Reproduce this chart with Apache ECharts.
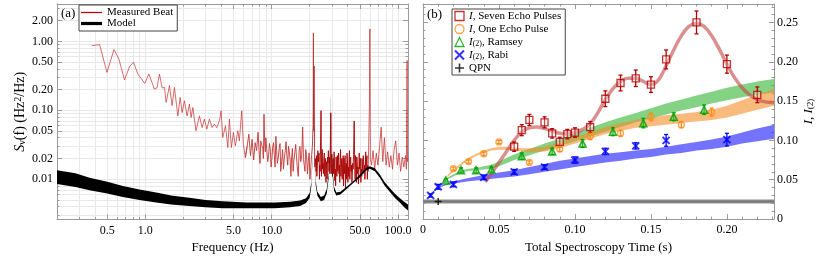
<!DOCTYPE html>
<html><head><meta charset="utf-8">
<script src="https://cdn.jsdelivr.net/npm/echarts@6/dist/echarts.min.js"></script>
<style>html,body{margin:0;padding:0;background:#fff}#c{width:830px;height:257px}</style>
</head><body><div id="c"></div>
<script>
// ================= Panel (a) data =================
const beatFreq = [0.378,0.435,0.497,0.565,0.618,0.684,0.75,0.806,0.873,0.99,1.066,1.18,1.235,1.294,1.36,1.418,1.462,1.553,1.63,1.70,1.81,1.887,1.957,2.04,2.14,2.235,2.305,2.377,2.52,2.68,2.817,2.937,3.07,3.217,3.38,3.52,3.68,3.86,3.98,4.10,4.31,4.50,4.63,4.80,4.98,5.16,5.40,5.55,5.80,5.97,6.19,
6.4,6.6,6.8,7.0,7.2,7.4,7.6,7.8,8.0,8.2,8.5,8.7,8.9,9.0,9.3,9.6,9.9,10.2,10.5,10.8,11.1,11.5,11.8,12.2,12.6,13.0,13.4,13.8,14.2,14.6,15.0,15.5,16.0,16.5,17.0,17.6,18.1,18.6,19.2,19.8,20.4,
21.0,21.3,21.4,21.5,21.7,21.9,22.2,22.5,22.8,23.2,23.5,23.9,24.2,24.6,25.0,25.3,25.7,26.1,26.5,26.9,27.3,27.7,28.1,28.5,28.9,29.4,29.8,30.3,30.7,31.2,31.6,32.1,32.6,33.1,33.6,34.1,34.6,35.1,35.6,36.2,36.8,37.3,37.9,38.4,39.0,39.5,40.1,40.7,41.3,41.9,42.5,43.2,43.8,44.5,45.0,45.8,46.5,47.2,47.9,48.6,49.3,50.1,50.8,51.6,52.3,53.1,53.9,54.7,55.5,56.4,57.2,58.1,
59.4,59.9,60.4,61.7,63.5,65.4,67.4,69.4,71.5,73.6,75.8,78.1,80.4,82.8,85.3,87.9,90.5,93.2,96.0,98.9,101.9,104.9,108.1,111.3,114.7,116.5,118.0,119.0,120];
const beatPSD = [0.871,0.90,0.356,0.762,0.557,0.276,0.43,0.50,0.337,0.246,0.337,0.204,0.211,0.337,0.211,0.215,0.130,0.228,0.117,0.215,0.083,0.154,0.093,0.138,0.083,0.123,0.0787,0.110,0.0505,0.083,0.0563,0.0746,0.0534,0.0746,0.0563,0.063,0.056,0.0705,0.0986,0.0403,0.0596,0.0288,0.0746,0.0288,0.0476,0.0305,0.0505,0.036,0.0986,0.0323,0.0206,
0.030,0.045,0.022,0.038,0.019,0.034,0.026,0.048,0.021,0.036,0.028,0.088,0.025,0.040,0.018,0.033,0.015,0.030,0.022,0.042,0.017,0.029,0.013,0.027,0.020,0.035,0.016,0.025,0.011,0.028,0.019,0.032,0.014,0.026,0.018,0.057,0.016,0.027,0.012,0.024,0.015,
0.030,0.060,1.33,0.05,0.44,0.02,0.020,0.013,0.011,0.026,0.018,0.010,0.013,0.099,0.019,0.014,0.012,0.024,0.017,0.009,0.014,0.021,0.026,0.013,0.012,0.092,0.017,0.011,0.020,0.025,0.0095,0.008,0.016,0.022,0.019,0.012,0.009,0.027,0.015,0.010,0.022,0.020,0.012,0.0075,0.017,0.024,0.009,0.011,0.026,0.019,0.013,0.009,0.017,0.023,0.070,0.010,0.016,0.021,0.012,0.0085,0.024,0.018,0.009,0.011,0.016,0.022,0.013,0.010,0.025,0.019,0.010,0.013,
0.11,1.52,0.02,0.016,0.026,0.014,0.024,0.016,0.030,0.057,0.018,0.040,0.016,0.025,0.015,0.022,0.014,0.027,0.036,0.016,0.024,0.013,0.021,0.015,0.022,0.014,0.53,0.018,0.020];
// additional readings in the dense 8-58 Hz stretch of the measured trace
const beatFreqDense = [8.1,8.35,8.6,8.8,9.15,9.45,9.75,10.05,10.35,10.65,10.95,11.3,11.65,12.0,12.4,12.8,13.2,13.6,14.0,14.4,14.8,15.25,15.75,16.25,16.75,17.3,17.85,18.35,18.9,19.5,20.1,20.7,
22.0,22.65,23.0,23.7,24.05,24.8,25.15,25.5,25.9,26.3,26.7,27.1,27.5,27.9,28.3,28.7,29.1,29.6,30.0,30.5,30.95,31.4,31.85,32.35,32.85,33.35,33.85,34.35,34.85,35.35,35.9,36.5,37.05,37.6,38.15,38.7,39.25,39.8,40.4,41.0,41.6,42.2,42.85,43.5,44.15,45.4,46.15,46.85,47.55,48.25,48.95,49.7,50.45,51.2,51.95,52.7,53.5,54.3,55.1,55.95,56.8,57.65];
const beatPSDDense = [0.017,0.031,0.020,0.035,0.027,0.022,0.028,0.020,0.034,0.015,0.026,0.021,0.033,0.018,0.014,0.026,0.022,0.030,0.019,0.021,0.013,0.024,0.020,0.011,0.030,0.022,0.020,0.013,0.022,0.018,0.010,0.022,
0.015,0.022,0.016,0.024,0.016,0.011,0.027,0.017,0.020,0.011,0.020,0.018,0.010,0.017,0.019,0.021,0.015,0.012,0.023,0.014,0.012,0.019,0.014,0.021,0.011,0.013,0.024,0.016,0.020,0.011,0.020,0.017,0.008,0.016,0.022,0.013,0.010,0.019,0.015,0.020,0.010,0.021,0.016,0.012,0.014,0.018,0.022,0.009,0.018,0.015,0.011,0.014,0.020,0.014,0.020,0.012,0.018,0.016,0.013,0.014,0.022,0.016];

const modelFreq  = [0.2,0.28,0.362,0.5,0.665,0.9,1.22,1.6,2.23,3.0,4.1,6.3,10.6,14,16.8,18.7,20.0,20.6,21.0,21.2,21.33,21.42,21.5,21.62,21.85,22.3,23.0,24.5,26.0,27.3,28.2,28.8,29.1,29.3,29.5,29.8,30.4,31.2,32.5,35.0,39.2,44.0,50.0,55.7,59.9,65.6,71.9,78,86.3,95,103.5,112,120];
const modelUpper = [0.0135,0.0122,0.0105,0.0092,0.0080,0.0071,0.0064,0.0058,0.0054,0.0050,0.0048,0.0046,0.0046,0.0047,0.0049,0.0053,0.0063,0.0090,0.020,0.06,0.25,1.1,0.3,0.07,0.022,0.0095,0.0066,0.0055,0.0058,0.0072,0.012,0.030,0.07,0.17,0.07,0.030,0.013,0.0078,0.0064,0.0066,0.0078,0.0093,0.0117,0.0145,0.0154,0.0144,0.0117,0.0092,0.0074,0.0061,0.0053,0.0047,0.0043];
const modelLower = [0.0085,0.0077,0.0069,0.0062,0.0055,0.0050,0.0046,0.0043,0.0041,0.0039,0.0038,0.0038,0.0038,0.0039,0.0041,0.0045,0.0054,0.0078,0.017,0.05,0.20,0.9,0.22,0.055,0.018,0.0082,0.0058,0.0048,0.0050,0.0062,0.010,0.026,0.06,0.14,0.06,0.026,0.011,0.0068,0.0058,0.0060,0.0072,0.0087,0.0107,0.0134,0.0142,0.0131,0.0105,0.0082,0.0065,0.0053,0.0046,0.0039,0.0035];

const aXLabelVals = [0.5, 1, 5, 10, 50, 100];
const aXLabelText = ['0.5','1.0','5.0','10.0','50.0','100.0'];
const aXMinorVals = [0.2,0.3,0.4,0.5,0.6,0.7,0.8,0.9,1,2,3,4,5,6,7,8,9,10,20,30,40,50,60,70,80,90,100];
const aYLabelVals = [0.01,0.02,0.05,0.1,0.2,0.5,1,2];
const aYLabelText = ['0.01','0.02','0.05','0.10','0.20','0.50','1.00','2.00'];
const aYMinorVals = [0.003,0.004,0.005,0.006,0.007,0.008,0.009,0.01,0.02,0.03,0.04,0.05,0.06,0.07,0.08,0.09,0.1,0.2,0.3,0.4,0.5,0.6,0.7,0.8,0.9,1,2,3];

// ================= Panel (b) data =================
const sevenT   = [0.06,0.065,0.07,0.08,0.085,0.09,0.095,0.1,0.11,0.12,0.13,0.14,0.15,0.16,0.18,0.20,0.22];
const sevenI   = [0.092,0.113,0.126,0.123,0.109,0.098,0.108,0.110,0.117,0.153,0.173,0.179,0.171,0.203,0.250,0.197,0.158];
const sevenErr = [0.006,0.007,0.007,0.007,0.006,0.006,0.006,0.006,0.007,0.010,0.010,0.0105,0.010,0.012,0.0145,0.0115,0.010];
const sevenFitT = [0.041,0.045,0.05,0.055,0.06,0.065,0.07,0.075,0.08,0.085,0.09,0.095,0.1,0.105,0.11,0.115,0.12,0.125,0.13,0.135,0.14,0.145,0.15,0.155,0.16,0.165,0.17,0.175,0.18,0.185,0.19,0.195,0.2,0.205,0.21,0.215,0.22,0.225,0.231];
const sevenFitI = [0.047,0.058,0.072,0.086,0.100,0.111,0.116,0.117,0.115,0.112,0.109,0.108,0.110,0.114,0.121,0.135,0.152,0.166,0.175,0.179,0.179,0.175,0.171,0.177,0.195,0.215,0.233,0.245,0.249,0.245,0.233,0.216,0.197,0.180,0.167,0.158,0.152,0.149,0.148];

const oneT   = [0.02,0.03,0.04,0.05,0.07,0.09,0.11,0.13,0.15,0.17,0.19];
const oneI   = [0.064,0.073,0.083,0.098,0.072,0.089,0.105,0.109,0.130,0.120,0.136];
const oneErr = [0.002,0.002,0.002,0.002,0.002,0.003,0.004,0.004,0.005,0.004,0.005];
const oneBandT  = [0.016,0.02,0.025,0.03,0.035,0.04,0.045,0.05,0.055,0.06,0.065,0.07,0.08,0.09,0.1,0.11,0.12,0.13,0.14,0.15,0.16,0.17,0.18,0.19,0.2,0.21,0.22,0.231];
const oneBandLo = [0.053,0.060,0.068,0.075,0.080,0.084,0.087,0.088,0.088,0.087,0.086,0.085,0.086,0.090,0.096,0.102,0.108,0.112,0.116,0.118,0.120,0.122,0.124,0.126,0.129,0.134,0.139,0.144];
const oneBandHi = [0.056,0.063,0.071,0.078,0.083,0.087,0.090,0.092,0.092,0.091,0.090,0.090,0.092,0.097,0.104,0.110,0.117,0.122,0.126,0.129,0.132,0.134,0.136,0.139,0.144,0.151,0.158,0.165];

const ramseyT   = [0.015,0.025,0.035,0.045,0.065,0.085,0.105,0.125,0.145,0.165,0.185];
const ramseyI   = [0.049,0.062,0.062,0.063,0.080,0.086,0.096,0.111,0.122,0.130,0.139];
const ramseyErr = [0.002,0.003,0.003,0.003,0.004,0.004,0.005,0.005,0.006,0.005,0.006];
const ramseyBandT  = [0.0136,0.02,0.025,0.03,0.035,0.04,0.045,0.05,0.055,0.06,0.065,0.07,0.08,0.09,0.1,0.11,0.12,0.13,0.14,0.15,0.16,0.17,0.18,0.19,0.2,0.21,0.22,0.231];
const ramseyBandLo = [0.048,0.054,0.059,0.061,0.062,0.063,0.064,0.067,0.071,0.075,0.078,0.081,0.087,0.093,0.099,0.105,0.111,0.117,0.123,0.128,0.133,0.138,0.142,0.147,0.151,0.155,0.158,0.161];
const ramseyBandHi = [0.050,0.057,0.062,0.064,0.065,0.067,0.069,0.073,0.078,0.082,0.086,0.089,0.096,0.102,0.109,0.116,0.123,0.129,0.135,0.141,0.147,0.152,0.157,0.162,0.167,0.171,0.175,0.178];

const rabiT   = [0.005,0.01,0.02,0.04,0.06,0.08,0.1,0.12,0.14,0.16,0.2];
const rabiI   = [0.030,0.041,0.044,0.053,0.060,0.066,0.075,0.086,0.093,0.100,0.101];
const rabiErr = [0.002,0.003,0.003,0.003,0.003,0.003,0.004,0.004,0.004,0.0075,0.008];
const rabiBandT  = [0.004,0.01,0.015,0.02,0.03,0.04,0.05,0.06,0.07,0.08,0.09,0.1,0.11,0.12,0.13,0.14,0.15,0.16,0.17,0.18,0.19,0.2,0.21,0.22,0.231];
const rabiBandLo = [0.029,0.039,0.043,0.045,0.048,0.050,0.052,0.054,0.057,0.060,0.063,0.066,0.069,0.072,0.074,0.077,0.079,0.082,0.084,0.087,0.089,0.092,0.096,0.099,0.102];
const rabiBandHi = [0.031,0.041,0.045,0.048,0.052,0.056,0.059,0.062,0.066,0.070,0.074,0.077,0.080,0.083,0.085,0.087,0.089,0.092,0.095,0.098,0.101,0.105,0.110,0.115,0.120];

const qpnT = [0.01];
const qpnI = [0.0224];
const qpnBandT  = [0, 0.231];
const qpnBandLo = [0.0197, 0.0197];
const qpnBandHi = [0.0247, 0.0247];

const bXLabelVals = [0, 0.05, 0.10, 0.15, 0.20];
const bXLabelText = ['0','0.05','0.10','0.15','0.20'];
const bYLabelVals = [0, 0.05, 0.10, 0.15, 0.20, 0.25];
const bYLabelText = ['0','0.05','0.10','0.15','0.20','0.25'];

// ================= Build chart =================
const FONT = 'Liberation Serif';
const L = Math.log10;
const FRAME = '#9a9a9a';
const bXMinorVals = []; for (let k = 0; k <= 23; k++) bXMinorVals.push(+(k * 0.01).toFixed(2));
const bYMinorVals = []; for (let k = 0; k <= 27; k++) bYMinorVals.push(+(k * 0.01).toFixed(2));

function lookup(vals, texts) {
  return function (v) {
    for (let i = 0; i < vals.length; i++) if (Math.abs(vals[i] - v) < 1e-6) return texts[i];
    return '';
  };
}

function axis(dim, o) {
  const a = {
    type: 'value', gridIndex: o.grid, min: o.min, max: o.max, position: o.pos,
    axisLine: { show: !!o.line, onZero: false, lineStyle: { color: FRAME, width: 1 } },
    axisTick: { show: true, inside: true, length: o.tickLen, customValues: o.ticks, lineStyle: { color: FRAME, width: 1 } },
    axisLabel: o.labels ? {
      show: true, customValues: o.labels, formatter: o.fmt, margin: o.margin,
      color: '#000', fontFamily: FONT, fontSize: 12
    } : { show: false },
    splitLine: { show: !!o.split, lineStyle: { color: '#e9e9e9', width: 1 } },
    minorTick: { show: false }, minorSplitLine: { show: false }
  };
  if (o.name) {
    a.name = o.name; a.nameLocation = 'middle'; a.nameGap = o.nameGap;
    if (o.nameRotate !== undefined) a.nameRotate = o.nameRotate;
    a.nameTextStyle = { fontFamily: FONT, fontSize: o.nameSize || 13, color: '#000', rich: o.rich || {} };
  }
  return a;
}

const aXmin = L(0.2), aXmax = L(120), aYmin = L(0.0026), aYmax = L(3.5);
const bXmin = 0, bXmax = 0.231, bYmin = 0, bYmax = 0.2735;

function richFor(size) {
  return {
    i: { fontStyle: 'italic', fontFamily: FONT, fontSize: size, color: '#000' },
    sub: { fontFamily: FONT, fontSize: Math.round(size * 0.7), color: '#000', verticalAlign: 'bottom', lineHeight: Math.round(size * 0.7) },
    sup: { fontFamily: FONT, fontSize: Math.round(size * 0.7), color: '#000', verticalAlign: 'top', lineHeight: Math.round(size * 0.7) }
  };
}

const xAxes = [
  axis('x', { grid: 0, min: aXmin, max: aXmax, pos: 'bottom', line: true, tickLen: 2.5, ticks: aXMinorVals.map(L), split: true,
    labels: aXLabelVals.map(L), fmt: lookup(aXLabelVals.map(L), aXLabelText), margin: 5, name: 'Frequency (Hz)', nameGap: 21 }),
  axis('x', { grid: 0, min: aXmin, max: aXmax, pos: 'bottom', tickLen: 5, ticks: aXLabelVals.map(L) }),
  axis('x', { grid: 0, min: aXmin, max: aXmax, pos: 'top', line: true, tickLen: 2.5, ticks: aXMinorVals.map(L) }),
  axis('x', { grid: 0, min: aXmin, max: aXmax, pos: 'top', tickLen: 5, ticks: aXLabelVals.map(L) }),
  axis('x', { grid: 1, min: bXmin, max: bXmax, pos: 'bottom', line: true, tickLen: 2.5, ticks: bXMinorVals,
    labels: bXLabelVals, fmt: lookup(bXLabelVals, bXLabelText), margin: 5, name: 'Total Spectroscopy Time (s)', nameGap: 21 }),
  axis('x', { grid: 1, min: bXmin, max: bXmax, pos: 'bottom', tickLen: 5, ticks: bXLabelVals }),
  axis('x', { grid: 1, min: bXmin, max: bXmax, pos: 'top', line: true, tickLen: 2.5, ticks: bXMinorVals }),
  axis('x', { grid: 1, min: bXmin, max: bXmax, pos: 'top', tickLen: 5, ticks: bXLabelVals })
];
const yAxes = [
  axis('y', { grid: 0, min: aYmin, max: aYmax, pos: 'left', line: true, tickLen: 2.5, ticks: aYMinorVals.map(L), split: true,
    labels: aYLabelVals.map(L), fmt: lookup(aYLabelVals.map(L), aYLabelText), margin: 4,
    name: '{i|S}{sub|ν}(f) (Hz{sup|2}/Hz)', nameGap: 30, nameRotate: 90, nameSize: 14, rich: richFor(14) }),
  axis('y', { grid: 0, min: aYmin, max: aYmax, pos: 'left', tickLen: 5, ticks: aYLabelVals.map(L) }),
  axis('y', { grid: 0, min: aYmin, max: aYmax, pos: 'right', line: true, tickLen: 2.5, ticks: aYMinorVals.map(L) }),
  axis('y', { grid: 0, min: aYmin, max: aYmax, pos: 'right', tickLen: 5, ticks: aYLabelVals.map(L) }),
  axis('y', { grid: 1, min: bYmin, max: bYmax, pos: 'right', line: true, tickLen: 2.5, ticks: bYMinorVals,
    labels: bYLabelVals, fmt: lookup(bYLabelVals, bYLabelText), margin: 3,
    name: '{i|I}, {i|I}{sub|(2)}', nameGap: 27, nameRotate: 90, rich: richFor(13) }),
  axis('y', { grid: 1, min: bYmin, max: bYmax, pos: 'right', tickLen: 5, ticks: bYLabelVals }),
  axis('y', { grid: 1, min: bYmin, max: bYmax, pos: 'left', line: true, tickLen: 2.5, ticks: bYMinorVals }),
  axis('y', { grid: 1, min: bYmin, max: bYmax, pos: 'left', tickLen: 5, ticks: bYLabelVals })
];

// merge the two sets of trace readings into one frequency-ordered trace
const beatAll = beatFreq.map((f, i) => [f, beatPSD[i]])
  .concat(beatFreqDense.map((f, i) => [f, beatPSDDense[i]]))
  .sort((a, b) => a[0] - b[0]);

function beatSeg(lo, hi, color) {
  const d = [];
  for (const p of beatAll) if (p[0] >= lo && p[0] <= hi) d.push([L(p[0]), L(p[1])]);
  return { name: 'Measured Beat', type: 'line', xAxisIndex: 0, yAxisIndex: 0, data: d, showSymbol: false, symbol: 'none',
    lineStyle: { color: color, width: 0.9 }, itemStyle: { color: '#c00000' }, z: 2, silent: true, clip: true };
}

function band(name, xi, yi, T, lo, hi, fill, tx, ty, z) {
  return {
    name: name, type: 'custom', xAxisIndex: xi, yAxisIndex: yi, clip: true, silent: true, z: z,
    itemStyle: { color: fill },
    data: T.map((t, i) => [tx(t), ty(hi[i])]),
    renderItem: function (params, api) {
      if (params.dataIndex !== 0) return null;
      const pts = [];
      for (let i = 0; i < T.length; i++) pts.push(api.coord([tx(T[i]), ty(hi[i])]));
      for (let i = T.length - 1; i >= 0; i--) pts.push(api.coord([tx(T[i]), ty(lo[i])]));
      return { type: 'polygon', shape: { points: pts }, style: { fill: fill } };
    }
  };
}

function errBars(T, I, E, color, z) {
  return {
    type: 'custom', xAxisIndex: 4, yAxisIndex: 4, silent: true, z: z, clip: true,
    data: T.map((t, i) => [t, I[i] - E[i], I[i] + E[i]]),
    encode: { x: 0, y: [1, 2] },
    renderItem: function (params, api) {
      const x = api.value(0);
      const a = api.coord([x, api.value(1)]);
      const b = api.coord([x, api.value(2)]);
      const s = { stroke: color, lineWidth: 1.3 };
      const c = 2;
      return { type: 'group', children: [
        { type: 'line', shape: { x1: a[0], y1: a[1], x2: b[0], y2: b[1] }, style: s },
        { type: 'line', shape: { x1: a[0] - c, y1: a[1], x2: a[0] + c, y2: a[1] }, style: s },
        { type: 'line', shape: { x1: b[0] - c, y1: b[1], x2: b[0] + c, y2: b[1] }, style: s }
      ] };
    }
  };
}

function pts(name, T, I, symbol, size, color, bw, fill) {
  return { name: name, type: 'scatter', xAxisIndex: 4, yAxisIndex: 4, z: 6, silent: true,
    data: T.map((t, i) => [t, I[i]]), symbol: symbol, symbolSize: size,
    itemStyle: { color: fill || 'rgba(255,255,255,0)', borderColor: color, borderWidth: bw } };
}

const ident = v => v;
const RED = '#b30000', ORANGE = '#ff8c1a', GREEN = '#00a000', BLUE = '#0000ff';
const XPATH = 'path://M0,0L10,10M10,0L0,10';
const PLUS = 'path://M5,0L5,10M0,5L10,5';

const series = [
  beatSeg(0, 6.4, 'rgba(200,50,50,0.8)'),
  beatSeg(6.19, 22.2, '#c23636'),
  beatSeg(22.2, 58.1, '#a80000'),
  beatSeg(58.1, 200, 'rgba(200,50,50,0.85)'),
  band('Model', 0, 0, modelFreq, modelLower, modelUpper, '#000000', L, L, 3),
  // panel b
  band('qpnBand', 4, 4, qpnBandT, qpnBandLo, qpnBandHi, '#8e8e8e', ident, ident, 1),
  { type: 'line', xAxisIndex: 4, yAxisIndex: 4, silent: true, z: 1, symbol: 'none',
    data: qpnBandT.map((t, i) => [t, (qpnBandLo[i] + qpnBandHi[i]) / 2]), lineStyle: { color: '#777', width: 1.5 } },
  band('rabiBand', 4, 4, rabiBandT, rabiBandLo, rabiBandHi, 'rgba(40,40,255,0.65)', ident, ident, 1),
  band('ramseyBand', 4, 4, ramseyBandT, ramseyBandLo, ramseyBandHi, 'rgba(50,180,50,0.6)', ident, ident, 1),
  band('oneBand', 4, 4, oneBandT, oneBandLo, oneBandHi, 'rgba(245,140,40,0.6)', ident, ident, 1),
  { name: 'sevenFit', type: 'line', xAxisIndex: 4, yAxisIndex: 4, silent: true, z: 2, symbol: 'none', smooth: 0.4,
    data: sevenFitT.map((t, i) => [t, sevenFitI[i]]), lineStyle: { color: 'rgba(195,70,70,0.6)', width: 3.5 } },
  errBars(sevenT, sevenI, sevenErr, RED, 4),
  errBars(oneT, oneI, oneErr, ORANGE, 4),
  errBars(ramseyT, ramseyI, ramseyErr, GREEN, 4),
  errBars(rabiT, rabiI, rabiErr, BLUE, 4),
  pts('I, Seven Echo Pulses', sevenT, sevenI, 'rect', 7, RED, 1.3, 'rgba(255,255,255,0.35)'),
  pts('I, One Echo Pulse', oneT, oneI, 'circle', 6, ORANGE, 1.3),
  pts('I(2), Ramsey', ramseyT, ramseyI, 'triangle', 7, GREEN, 1.6, 'rgba(120,210,120,0.5)'),
  pts('I(2), Rabi', rabiT, rabiI, XPATH, 7, BLUE, 2),
  pts('QPN', qpnT, qpnI, PLUS, 7, '#000', 1.5)
];

const legendRich = {
  i: { fontStyle: 'italic', fontFamily: FONT, fontSize: 11, color: '#000' },
  sub: { fontFamily: FONT, fontSize: 8, color: '#000', verticalAlign: 'bottom', lineHeight: 8 }
};
const legendFmt = {
  'I, Seven Echo Pulses': '{i|I}, Seven Echo Pulses',
  'I, One Echo Pulse': '{i|I}, One Echo Pulse',
  'I(2), Ramsey': '{i|I}{sub|(2)}, Ramsey',
  'I(2), Rabi': '{i|I}{sub|(2)}, Rabi',
  'QPN': 'QPN'
};

const option = {
  animation: false,
  backgroundColor: '#fff',
  textStyle: { fontFamily: FONT },
  title: [
    { text: '(a)', left: 61, top: 7, padding: 0, textStyle: { fontFamily: FONT, fontSize: 13, fontWeight: 'normal', color: '#000' } },
    { text: '(b)', left: 427, top: 8, padding: 0, textStyle: { fontFamily: FONT, fontSize: 13, fontWeight: 'normal', color: '#000' } }
  ],
  grid: [
    { left: 57, top: 4, width: 351, height: 215.5, outerBoundsMode: 'none', containLabel: false },
    { left: 423, top: 4, width: 351, height: 215, outerBoundsMode: 'none', containLabel: false }
  ],
  xAxis: xAxes,
  yAxis: yAxes,
  legend: [
    { left: 79, top: 5, orient: 'vertical', backgroundColor: '#fff', borderColor: '#444', borderWidth: 1, borderRadius: 0,
      padding: [2, 4, 2, 2], itemGap: 0, itemWidth: 21, itemHeight: 9, selectedMode: false,
      textStyle: { fontFamily: FONT, fontSize: 11, color: '#000', lineHeight: 10 },
      data: [
        { name: 'Measured Beat', icon: 'path://M0,0H21V1.3H0Z', itemStyle: { color: '#c00000', borderWidth: 0 } },
        { name: 'Model', icon: 'path://M0,0H21V3.2H0Z', itemStyle: { color: '#000', borderWidth: 0 } }
      ] },
    { left: 452, top: 9, orient: 'vertical', backgroundColor: '#fff', borderColor: '#444', borderWidth: 1, borderRadius: 0,
      padding: [1, 4, 1, 2], itemGap: 1, itemWidth: 9, itemHeight: 9, selectedMode: false,
      textStyle: { fontFamily: FONT, fontSize: 11, color: '#000', lineHeight: 12, rich: legendRich },
      formatter: name => legendFmt[name] || name,
      data: [
        { name: 'I, Seven Echo Pulses', icon: 'rect', itemStyle: { color: 'rgba(255,255,255,0)', borderColor: RED, borderWidth: 1.3 } },
        { name: 'I, One Echo Pulse', icon: 'circle', itemStyle: { color: 'rgba(255,255,255,0)', borderColor: ORANGE, borderWidth: 1.3 } },
        { name: 'I(2), Ramsey', icon: 'triangle', itemStyle: { color: 'rgba(255,255,255,0)', borderColor: GREEN, borderWidth: 1.3 } },
        { name: 'I(2), Rabi', icon: XPATH, itemStyle: { color: 'rgba(255,255,255,0)', borderColor: BLUE, borderWidth: 2 } },
        { name: 'QPN', icon: PLUS, itemStyle: { color: 'rgba(255,255,255,0)', borderColor: '#000', borderWidth: 1.6 } }
      ] }
  ],
  series: series
};

const chart = echarts.init(document.getElementById('c'), null, { renderer: 'canvas' });
chart.setOption(option);
</script>
</body></html>
